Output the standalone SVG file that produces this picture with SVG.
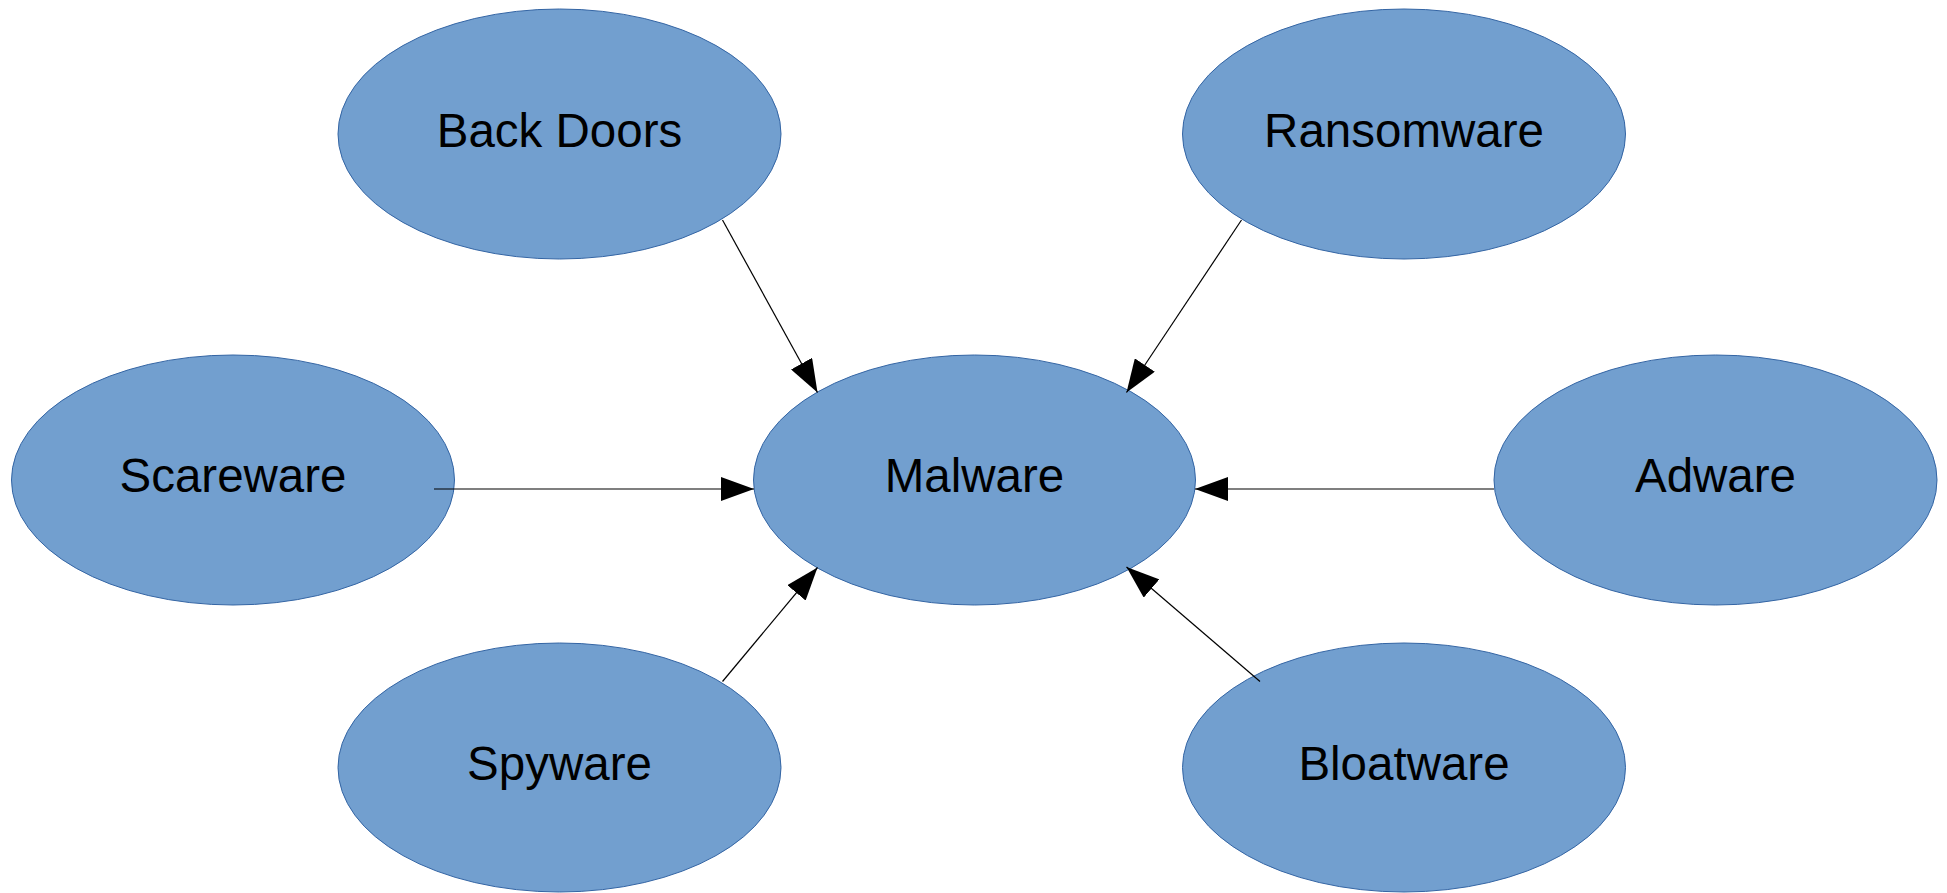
<svg xmlns="http://www.w3.org/2000/svg" width="1947" height="893" viewBox="0 0 1947 893">
<style>
.node ellipse{fill:#729fcf;stroke:#3465a4;stroke-width:1}
.node text{font-family:"Liberation Sans",Arial,sans-serif;font-size:47.5px;fill:#000;text-anchor:middle}
.edge{stroke:#000;stroke-width:1.2;fill:none;marker-end:url(#arr)}
</style>
<defs>
<marker id="arr" markerUnits="userSpaceOnUse" markerWidth="34" markerHeight="24" refX="33" refY="12" orient="auto" viewBox="0 0 34 24">
<path d="M0,0 L33,12 L0,24 Z" fill="#000"/>
</marker>
</defs>
<rect width="1947" height="893" fill="#fff"/>
<g id="n-backdoors" class="node"><ellipse cx="559.5" cy="134" rx="221.5" ry="125"/><text x="559.5" y="146.5">Back Doors</text></g>
<g id="n-ransomware" class="node"><ellipse cx="1404" cy="134" rx="221.5" ry="125"/><text x="1404" y="146.5">Ransomware</text></g>
<g id="n-scareware" class="node"><ellipse cx="233" cy="480" rx="221.5" ry="125"/><text x="233" y="492">Scareware</text></g>
<g id="n-malware" class="node"><ellipse cx="974.5" cy="480" rx="221" ry="125"/><text x="974.5" y="492">Malware</text></g>
<g id="n-adware" class="node"><ellipse cx="1715.5" cy="480" rx="221.5" ry="125"/><text x="1715.5" y="492">Adware</text></g>
<g id="n-spyware" class="node"><ellipse cx="559.5" cy="767.5" rx="221.5" ry="124.5"/><text x="559.5" y="779.5">Spyware</text></g>
<g id="n-bloatware" class="node"><ellipse cx="1404" cy="767.5" rx="221.5" ry="124.5"/><text x="1404" y="779.5">Bloatware</text></g>
<g id="connectors">
<line class="edge" x1="722.5" y1="220" x2="817.5" y2="392.5"/>
<line class="edge" x1="1241.5" y1="220" x2="1126.5" y2="392.5"/>
<line class="edge" x1="434" y1="489" x2="754" y2="489"/>
<line class="edge" x1="1494" y1="489" x2="1195" y2="489"/>
<line class="edge" x1="722.5" y1="681.5" x2="817.5" y2="567.5"/>
<line class="edge" x1="1260" y1="681.5" x2="1126.5" y2="567"/>
</g>
</svg>
